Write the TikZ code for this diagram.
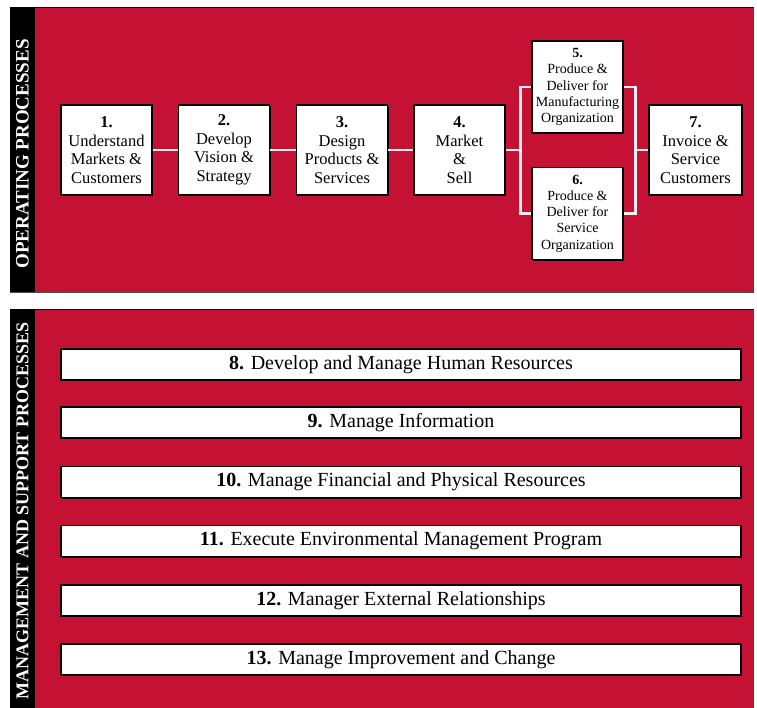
\documentclass[tikz,border=0pt]{standalone}
\usepackage{fontspec}
\setmainfont{Liberation Serif}
\usetikzlibrary{shadows}
\definecolor{panelred}{RGB}{197,17,52}
\definecolor{linkwhite}{RGB}{255,236,240}
\begin{document}
\begin{tikzpicture}[x=1pt,y=-1pt,
  procbox/.style={draw=black, line width=1.3pt, fill=white, align=center,
    inner sep=0pt, minimum width=91pt, minimum height=90pt,
    font=\fontsize{16.5}{18.5}\selectfont,
    drop shadow={shadow xshift=1.4pt, shadow yshift=-1.4pt, fill=black, opacity=1}},
  smallbox/.style={procbox, minimum height=92pt, font=\fontsize{14}{16.3}\selectfont},
  barbox/.style={draw=black, line width=1.1pt, fill=white, inner sep=0pt,
    minimum width=680pt, minimum height=31pt,
    font=\fontsize{20}{22}\selectfont,
    drop shadow={shadow xshift=1.4pt, shadow yshift=-1.4pt, fill=black, opacity=1}},
  link/.style={draw=linkwhite, line width=2.6pt},
  sidelabel/.style={rotate=90, text=white, inner sep=0pt,
    font=\fontsize{18}{18}\selectfont\bfseries}
]
\useasboundingbox (0,0) rectangle (757,708);
\fill[white] (0,0) rectangle (757,708);

% operating processes panel
\fill[panelred] (35,8) rectangle (754,292);
\fill[black] (10,8) rectangle (35,292);
\draw[black, line width=1pt] (10,7.5) -- (754,7.5);
\draw[black!70, line width=1pt] (10,292.5) -- (754,292.5);
\node[sidelabel, font=\fontsize{19}{19}\selectfont\bfseries] (opl) at (22.5,154) {OPERATING PROCESSES};

% management and support panel
\fill[panelred] (35,309) rectangle (754,708);
\fill[black] (10,309) rectangle (35,708);
\draw[black, line width=1pt] (10,309.5) -- (754,309.5);
\node[sidelabel] (msl) at (22.5,511) {MANAGEMENT AND SUPPORT PROCESSES};

% operating process boxes
\node[procbox] (b1) at (106.5,150) {\textbf{1.}\\Understand\\Markets \&\\Customers};
\node[procbox] (b2) at (224,150) {\textbf{2.}\\Develop\\Vision \&\\Strategy};
\node[procbox] (b3) at (342,150) {\textbf{3.}\\Design\\Products \&\\Services};
\node[procbox] (b4) at (459.5,150) {\textbf{4.}\\Market\\\&\\Sell};
\node[smallbox] (b5) at (577.5,87) {\textbf{5.}\\Produce \&\\Deliver for\\Manufacturing\\Organization};
\node[smallbox] (b6) at (577.5,213.5) {\textbf{6.}\\Produce \&\\Deliver for\\Service\\Organization};
\node[procbox, minimum width=93pt] (b7) at (695.5,150) {\textbf{7.}\\Invoice \&\\Service\\Customers};

% connectors
\coordinate (jl) at (520.5,150);
\coordinate (jr) at (635.5,150);
\draw[link] (b1) -- (b2);
\draw[link] (b2) -- (b3);
\draw[link] (b3) -- (b4);
\draw[link] (b4) -- (jl);
\draw[link] (b5.west) -| (jl) |- (b6.west);
\draw[link] (b5.east) -| (jr) |- (b6.east);
\draw[link] (jr) -- (b7);

% management and support bars
\node[barbox] (m8) at (401,364.5) {\textbf{8.} Develop and Manage Human Resources};
\node[barbox] (m9) at (401,422.5) {\textbf{9.} Manage Information};
\node[barbox] (m10) at (401,482) {\textbf{10.} Manage Financial and Physical Resources};
\node[barbox] (m11) at (401,541) {\textbf{11.} Execute Environmental Management Program};
\node[barbox] (m12) at (401,600.5) {\textbf{12.} Manager External Relationships};
\node[barbox] (m13) at (401,659.5) {\textbf{13.} Manage Improvement and Change};
\end{tikzpicture}
\end{document}
